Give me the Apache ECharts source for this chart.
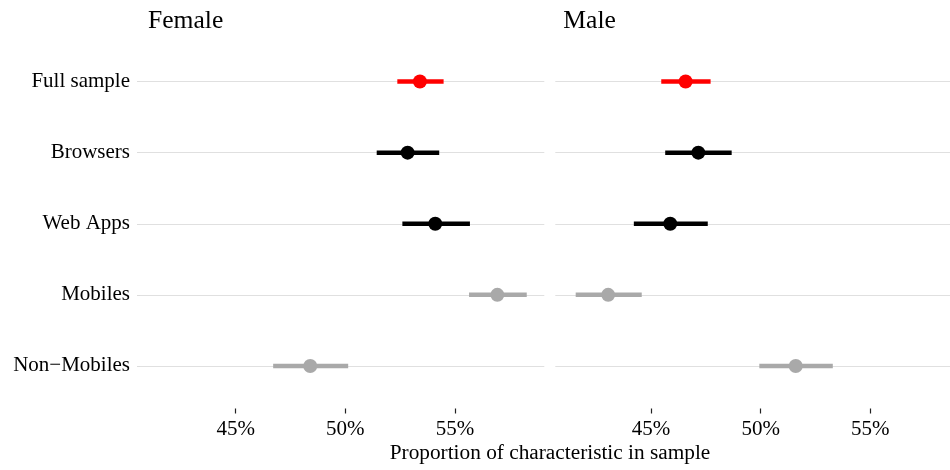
<!DOCTYPE html>
<html>
<head>
<meta charset="utf-8">
<script src="https://cdn.jsdelivr.net/npm/echarts@6/dist/echarts.min.js"></script>
<style>
  html, body { margin: 0; padding: 0; background: #ffffff; overflow: hidden; }
  #chart { width: 960px; height: 470px; }
</style>
</head>
<body>
<div id="chart"></div>
<script>
// Sample composition by group, split by gender (percent of sample)
const categories = ['Full sample', 'Browsers', 'Web Apps', 'Mobiles', 'Non\u2212Mobiles'];
const facets = ['Female', 'Male'];

const femaleEst  = [53.40, 52.84, 54.10, 56.93, 48.40];
const femaleLow  = [52.37, 51.43, 52.60, 55.64, 46.71];
const femaleHigh = [54.48, 54.28, 55.68, 58.27, 50.13];

const maleEst  = [46.58, 47.16, 45.88, 43.05, 51.60];
const maleLow  = [45.47, 45.65, 44.22, 41.57, 49.94];
const maleHigh = [47.72, 48.68, 47.59, 44.58, 53.29];

const xTicks = [45, 50, 55];
const xLimits = [40.64, 59.07];

// Colour for each row: the full sample, the device groups, the mobile split
const tone = {
  'Full sample': '#FF0000',
  'Browsers': '#000000',
  'Web Apps': '#000000',
  'Mobiles': '#A9A9A9',
  'Non\u2212Mobiles': '#A9A9A9'
};

const FONT = 'Liberation Serif';
const INK = '#000000';
const GRID_TOP = 46;
const GRID_H = 355.5;
const PANEL_W = 404.3;
const BAR_H = 4.5;
const panelLeft = [140, 555.3];

const chart = echarts.init(document.getElementById('chart'), null, { renderer: 'canvas' });

// horizontal interval bar from low to high on the row of the item
function rangeRenderer(params, api) {
  const yi = api.value(2);
  const a = api.coord([api.value(0), yi]);
  const b = api.coord([api.value(1), yi]);
  return {
    type: 'rect',
    shape: { x: a[0], y: a[1] - BAR_H / 2, width: b[0] - a[0], height: BAR_H },
    style: { fill: tone[categories[yi]], stroke: null }
  };
}

const panels = [
  { est: femaleEst, low: femaleLow, high: femaleHigh },
  { est: maleEst, low: maleLow, high: maleHigh }
];

const grids = [], xAxes = [], yAxes = [], series = [];

panels.forEach((p, k) => {
  grids.push({ left: panelLeft[k], top: GRID_TOP, width: PANEL_W, height: GRID_H, containLabel: false });
  xAxes.push({
    type: 'value', gridIndex: k, min: xLimits[0], max: xLimits[1], offset: 7,
    axisLine: { show: false },
    splitLine: { show: false },
    axisTick: { show: true, length: 5, customValues: xTicks, lineStyle: { color: '#222222', width: 1.2 } },
    axisLabel: {
      customValues: xTicks, margin: 10,
      formatter: v => v + '%',
      fontFamily: FONT, fontSize: 21, color: INK
    }
  });
  yAxes.push({
    type: 'category', gridIndex: k, data: categories, inverse: true, boundaryGap: true,
    axisLine: { show: false },
    splitLine: { show: false },
    axisTick: { show: k === 0, alignWithLabel: true, length: 3, lineStyle: { color: '#DDDDDD' } },
    axisLabel: { show: k === 0, margin: 10, fontFamily: FONT, fontSize: 21, color: INK }
  });
  // horizontal guide at each row, kept beneath the marks
  series.push({
    type: 'scatter', xAxisIndex: k, yAxisIndex: k, data: [], z: 0, silent: true,
    markLine: {
      z: 0,
      silent: true, symbol: ['none', 'none'], label: { show: false },
      lineStyle: { color: '#E0E0E0', width: 1, type: 'solid' },
      emphasis: { disabled: true },
      animation: false,
      data: categories.map(c => ({ yAxis: c }))
    }
  });
  series.push({
    type: 'custom', xAxisIndex: k, yAxisIndex: k, z: 3, silent: true,
    renderItem: rangeRenderer,
    encode: { x: [0, 1], y: 2 },
    data: categories.map((c, i) => [p.low[i], p.high[i], i])
  });
  series.push({
    type: 'scatter', xAxisIndex: k, yAxisIndex: k, z: 4, silent: true,
    symbol: 'circle', symbolSize: 14,
    itemStyle: { opacity: 1 },
    data: categories.map((c, i) => ({ value: [p.est[i], i], itemStyle: { color: tone[c], opacity: 1 } }))
  });
});

chart.setOption({
  animation: false,
  backgroundColor: '#ffffff',
  grid: grids,
  xAxis: xAxes,
  yAxis: yAxes,
  series: series,
  graphic: [
    { type: 'text', left: panelLeft[0] + 8, top: 8, style: { text: facets[0], font: '25.6px "Liberation Serif"', fill: INK } },
    { type: 'text', left: panelLeft[1] + 8, top: 8, style: { text: facets[1], font: '25.6px "Liberation Serif"', fill: INK } },
    { type: 'text', x: 550, y: 453, style: { text: 'Proportion of characteristic in sample', font: '21.3px "Liberation Serif"', fill: INK, align: 'center', verticalAlign: 'middle' } }
  ]
});
</script>
</body>
</html>
